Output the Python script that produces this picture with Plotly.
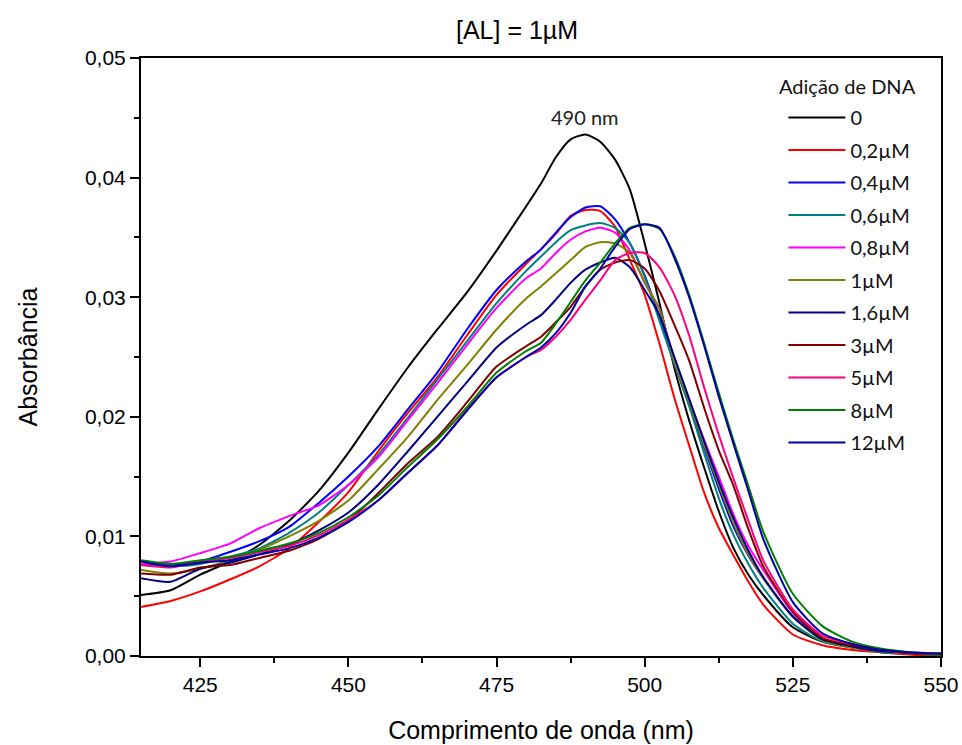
import plotly.graph_objects as go

wavelength = [415, 420, 425, 430, 435, 440, 445, 450, 455, 460, 465, 470, 475, 480,
              482.5, 485, 487.5, 490, 492.5, 495, 497.5, 500, 502.5, 505, 507.5, 510,
              512.5, 515, 517.5, 520, 525, 530, 535, 540, 545, 550]

labels = ["0", "0,2µM", "0,4µM", "0,6µM", "0,8µM", "1µM", "1,6µM", "3µM", "5µM", "8µM", "12µM"]
colors = ["#000000", "#FF0000", "#0000FF", "#008080", "#FF00FF", "#808000",
          "#000080", "#800000", "#FF0080", "#008000", "#0000A8"]

abs_0 = [0.0051, 0.0055, 0.0068, 0.0079, 0.0093, 0.0113, 0.0138, 0.0170, 0.0206, 0.0241, 0.0273, 0.0304, 0.0339, 0.0376,
         0.0395, 0.0417, 0.0432, 0.0436, 0.0430, 0.0415, 0.0390, 0.0345, 0.0295, 0.0241, 0.0197, 0.0158,
         0.0121, 0.0090, 0.0068, 0.0051, 0.0024, 0.0012, 0.0007, 0.0004, 0.0002, 0.0001]
abs_02 = [0.0041, 0.0046, 0.0054, 0.0064, 0.0075, 0.0090, 0.0112, 0.0137, 0.0171, 0.0203, 0.0233, 0.0268, 0.0302, 0.0328,
          0.0340, 0.0353, 0.0368, 0.0373, 0.0372, 0.0359, 0.0331, 0.0302, 0.0261, 0.0216, 0.0176, 0.0137,
          0.0107, 0.0084, 0.0062, 0.0043, 0.0018, 0.0009, 0.0005, 0.0003, 0.0001, 0.0000]
abs_04 = [0.0077, 0.0076, 0.0079, 0.0087, 0.0096, 0.0108, 0.0128, 0.0150, 0.0175, 0.0206, 0.0237, 0.0273, 0.0306, 0.0330,
          0.0340, 0.0354, 0.0367, 0.0375, 0.0376, 0.0365, 0.0345, 0.0318, 0.0283, 0.0245, 0.0210, 0.0175,
          0.0140, 0.0108, 0.0084, 0.0065, 0.0033, 0.0014, 0.0008, 0.0004, 0.0002, 0.0001]
abs_06 = [0.0076, 0.0075, 0.0077, 0.0083, 0.0090, 0.0103, 0.0120, 0.0143, 0.0168, 0.0199, 0.0231, 0.0263, 0.0295, 0.0322,
          0.0334, 0.0346, 0.0356, 0.0360, 0.0362, 0.0358, 0.0345, 0.0317, 0.0280, 0.0244, 0.0209, 0.0170,
          0.0132, 0.0101, 0.0077, 0.0057, 0.0027, 0.0012, 0.0007, 0.0003, 0.0002, 0.0001]
abs_08 = [0.0077, 0.0079, 0.0086, 0.0094, 0.0107, 0.0117, 0.0126, 0.0143, 0.0166, 0.0197, 0.0228, 0.0260, 0.0291, 0.0316,
          0.0324, 0.0337, 0.0348, 0.0355, 0.0358, 0.0354, 0.0339, 0.0312, 0.0290, 0.0247, 0.0214, 0.0181,
          0.0150, 0.0118, 0.0092, 0.0072, 0.0036, 0.0014, 0.0008, 0.0004, 0.0002, 0.0001]
abs_1 = [0.0072, 0.0069, 0.0073, 0.0080, 0.0089, 0.0100, 0.0113, 0.0130, 0.0156, 0.0183, 0.0214, 0.0243, 0.0273, 0.0299,
         0.0309, 0.0320, 0.0331, 0.0342, 0.0346, 0.0345, 0.0337, 0.0312, 0.0290, 0.0247, 0.0213, 0.0177,
         0.0143, 0.0111, 0.0085, 0.0065, 0.0033, 0.0013, 0.0007, 0.0004, 0.0002, 0.0001]
abs_16 = [0.0065, 0.0062, 0.0073, 0.0078, 0.0085, 0.0093, 0.0105, 0.0120, 0.0143, 0.0171, 0.0200, 0.0229, 0.0258, 0.0277,
          0.0285, 0.0298, 0.0312, 0.0323, 0.0329, 0.0333, 0.0325, 0.0306, 0.0285, 0.0250, 0.0215, 0.0180,
          0.0146, 0.0115, 0.0088, 0.0066, 0.0033, 0.0014, 0.0008, 0.0004, 0.0003, 0.0002]
abs_3 = [0.0069, 0.0068, 0.0074, 0.0076, 0.0082, 0.0088, 0.0098, 0.0113, 0.0136, 0.0161, 0.0183, 0.0212, 0.0242, 0.0259,
         0.0267, 0.0279, 0.0292, 0.0309, 0.0323, 0.0329, 0.0331, 0.0324, 0.0305, 0.0277, 0.0247, 0.0208,
         0.0172, 0.0142, 0.0106, 0.0075, 0.0037, 0.0015, 0.0009, 0.0005, 0.0002, 0.0001]
abs_5 = [0.0076, 0.0074, 0.0079, 0.0082, 0.0087, 0.0092, 0.0101, 0.0114, 0.0130, 0.0153, 0.0176, 0.0206, 0.0233, 0.0250,
         0.0256, 0.0267, 0.0281, 0.0298, 0.0314, 0.0331, 0.0337, 0.0337, 0.0325, 0.0302, 0.0268, 0.0225,
         0.0185, 0.0148, 0.0113, 0.0080, 0.0039, 0.0017, 0.0010, 0.0005, 0.0003, 0.0002]
abs_8 = [0.0080, 0.0077, 0.0080, 0.0083, 0.0088, 0.0094, 0.0103, 0.0116, 0.0134, 0.0158, 0.0181, 0.0208, 0.0237, 0.0255,
         0.0262, 0.0278, 0.0296, 0.0314, 0.0329, 0.0345, 0.0358, 0.0361, 0.0357, 0.0335, 0.0302, 0.0262,
         0.0220, 0.0180, 0.0142, 0.0104, 0.0052, 0.0025, 0.0012, 0.0006, 0.0003, 0.0001]
abs_12 = [0.0079, 0.0075, 0.0078, 0.0080, 0.0085, 0.0090, 0.0099, 0.0112, 0.0130, 0.0153, 0.0176, 0.0205, 0.0233, 0.0250,
          0.0258, 0.0270, 0.0287, 0.0309, 0.0324, 0.0342, 0.0357, 0.0361, 0.0358, 0.0333, 0.0300, 0.0260,
          0.0217, 0.0177, 0.0138, 0.0098, 0.0045, 0.0019, 0.0010, 0.0005, 0.0003, 0.0002]

series = [abs_0, abs_02, abs_04, abs_06, abs_08, abs_1, abs_16, abs_3, abs_5, abs_8, abs_12]

x_ticks = [425, 450, 475, 500, 525, 550]
y_ticks = [0.00, 0.01, 0.02, 0.03, 0.04, 0.05]

AXFONT = "Liberation Sans, Arial, sans-serif"
LEGFONT = "Lato, Open Sans, sans-serif"

fig = go.Figure()
for i, (lab, col, vals) in enumerate(zip(labels, colors, series)):
    fig.add_trace(go.Scatter(
        x=wavelength, y=vals, mode="lines", name=lab, legendgroup=f"g{i}",
        line=dict(color=col, width=2, shape="spline", smoothing=0.6),
    ))

fig.add_annotation(x=490, y=0.0451, text="490 nm", showarrow=False,
                   font=dict(family=LEGFONT, size=20, color="#222"), xanchor="center", yanchor="middle")
fig.add_annotation(x=0.47, y=1.0, xref="paper", yref="paper", yshift=28, text="[AL] = 1µM",
                   showarrow=False, font=dict(family=AXFONT, size=25, color="#000"),
                   xanchor="center", yanchor="middle")
fig.add_annotation(x=0.795, y=0.953, xref="paper", yref="paper", text="Adição de DNA",
                   showarrow=False, font=dict(family=LEGFONT, size=20, color="#111"),
                   xanchor="left", yanchor="middle")

fig.update_layout(
    width=962, height=745,
    margin=dict(l=141, r=21, t=58, b=89),
    paper_bgcolor="white", plot_bgcolor="white",
    separators=",.",
    showlegend=True,
    legend=dict(
        x=0.803, y=0.933, xanchor="left", yanchor="top",
        bgcolor="rgba(0,0,0,0)",
        font=dict(family=LEGFONT, size=20, color="#111"),
        itemwidth=57, tracegroupgap=3.5,
    ),
    xaxis=dict(
        range=[415, 550], tickvals=x_ticks, ticktext=[str(v) for v in x_ticks],
        ticks="outside", ticklen=9, tickwidth=2, tickcolor="black",
        showline=True, linecolor="black", linewidth=2, mirror=True,
        showgrid=False, zeroline=False, automargin=False,
        tickfont=dict(family=AXFONT, size=21, color="black"),
        minor=dict(dtick=12.5, tick0=0, ticks="outside", ticklen=5, tickwidth=2, tickcolor="black", showgrid=False),
        title=dict(text="Comprimento de onda (nm)", font=dict(family=AXFONT, size=25, color="black"), standoff=26),
    ),
    yaxis=dict(
        range=[0, 0.05], tickvals=y_ticks, tickformat=".2f",
        ticks="outside", ticklen=9, tickwidth=2, tickcolor="black",
        showline=True, linecolor="black", linewidth=2, mirror=True,
        showgrid=False, zeroline=False, automargin=False,
        tickfont=dict(family=AXFONT, size=21, color="black"),
        minor=dict(dtick=0.005, tick0=0, ticks="outside", ticklen=5, tickwidth=2, tickcolor="black", showgrid=False),
        title=dict(text="Absorbância", font=dict(family=AXFONT, size=25, color="black"), standoff=40),
    ),
)

fig.write_html("out.html")
